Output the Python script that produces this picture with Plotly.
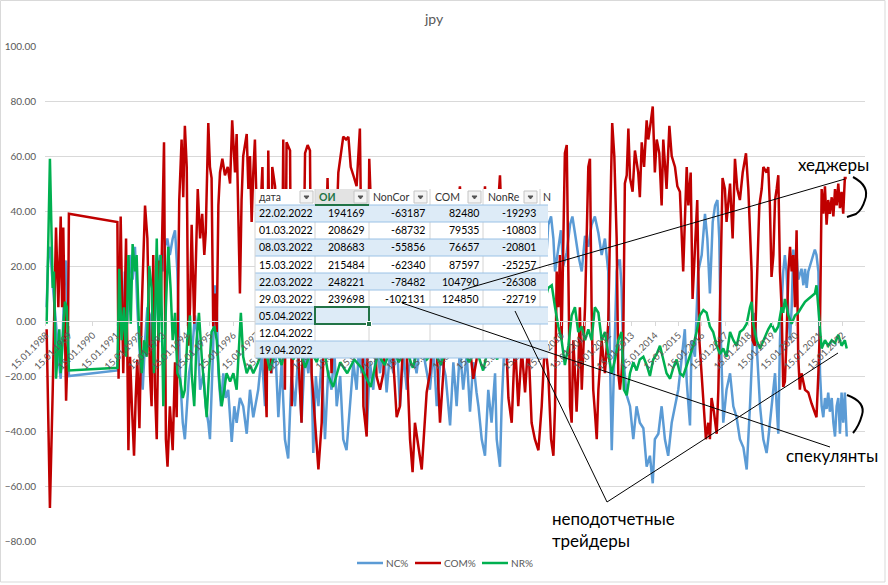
import plotly.graph_objects as go

# ---------------- data (year fraction, percent) ----------------
nc_points = [
    (1988.07, 5), (1988.14, 24), (1988.21, 27), (1988.28, 18), (1988.36, 10), (1988.47, -1), (1988.57, -13),
    (1988.67, -21), (1988.75, -7), (1988.84, 18), (1988.90, 22), (1988.98, -1), (1989.02, -20),
    (1991.09, -18), (1991.20, 5), (1991.34, -7), (1991.41, 18), (1991.51, -1), (1991.63, 24), (1991.74, 15),
    (1991.84, 27), (1991.94, 5), (1992.05, -13), (1992.17, -25), (1992.27, -7), (1992.37, 5), (1992.48, 2),
    (1992.59, -19), (1992.69, -1), (1992.79, 18), (1992.91, 24), (1993.02, 18), (1993.12, 27), (1993.22, 30),
    (1993.33, 24), (1993.45, 30), (1993.55, 33), (1993.65, 18), (1993.76, -19), (1993.88, -37), (1993.97, -43),
    (1994.05, -31), (1994.15, -19), (1994.26, -13), (1994.40, 2), (1994.52, -7), (1994.62, -25), (1994.76, -19),
    (1994.86, -31), (1994.97, -37), (1995.04, -43), (1995.14, -19), (1995.26, 13), (1995.33, 5), (1995.40, -19),
    (1995.51, -31), (1995.61, -19), (1995.71, -28), (1995.82, -25), (1995.97, -44), (1996.08, -31), (1996.18, -37),
    (1996.32, -28), (1996.46, -31), (1996.61, -41), (1996.75, -25), (1996.89, -35),
    (1997.10, -25), (1997.25, -12), (1997.39, -31), (1997.53, -10), (1997.67, -19), (1997.82, -8), (1997.96, -35),
    (1998.10, -15), (1998.24, -43), (1998.38, -50), (1998.52, -20), (1998.67, -31), (1998.81, -12), (1998.95, -37),
    (1999.10, -10), (1999.24, -19), (1999.35, -8), (1999.45, -48), (1999.56, -20), (1999.67, -31), (1999.81, -14),
    (1999.95, -43), (2000.09, -18), (2000.23, -25), (2000.35, -10), (2000.45, -31), (2000.60, -20), (2000.73, -43),
    (2000.87, -47), (2001.02, -31), (2001.16, -15), (2001.30, -25), (2001.40, -10), (2001.51, -19), (2001.62, -8),
    (2001.73, -41), (2001.87, -15), (2002.01, -25), (2002.15, -8), (2002.30, -19), (2002.44, -6), (2002.58, -26),
    (2002.72, -12), (2002.87, -19), (2003.01, -5), (2003.15, -31), (2003.30, -12), (2003.44, -25), (2003.65, -8),
    (2003.86, -19), (2004.05, -5), (2004.20, -14), (2004.43, -25), (2004.58, -10), (2004.72, -31), (2004.90, -12),
    (2005.10, -20), (2005.29, -38), (2005.43, -15), (2005.57, -31), (2005.71, -10), (2005.85, -25), (2006.00, -12),
    (2006.14, -33), (2006.28, -15), (2006.42, -26), (2006.50, -31), (2006.64, -43), (2006.78, -49), (2006.92, -25),
    (2007.06, -37), (2007.21, -19), (2007.28, -43), (2007.35, -48), (2007.42, -53), (2007.49, -31), (2007.60, -10),
    (2007.78, 0), (2007.95, 10), (2008.20, 15), (2008.40, 5), (2008.63, 10), (2008.85, 20), (2009.06, 25),
    (2009.20, 10), (2009.34, 15),
    (2009.48, 35), (2009.60, 38), (2009.70, 30), (2009.77, 18), (2009.91, 27), (2010.02, 33), (2010.12, 20),
    (2010.27, 25), (2010.41, 35), (2010.51, 38), (2010.62, 32), (2010.76, 24), (2010.91, 18), (2011.05, 31),
    (2011.19, 27), (2011.33, 35), (2011.47, 38), (2011.62, 32), (2011.76, 24), (2011.90, 30), (2012.04, 18),
    (2012.11, -7), (2012.19, -47), (2012.26, -25), (2012.33, -7), (2012.40, 18), (2012.47, 22), (2012.54, 22),
    (2012.61, 12), (2012.68, -13), (2012.83, -27), (2012.97, -31), (2013.11, -43), (2013.25, -31), (2013.39, -37),
    (2013.54, -39), (2013.68, -53), (2013.82, -49), (2013.94, -59), (2014.03, -43), (2014.18, -41), (2014.32, -31),
    (2014.46, -43), (2014.60, -49), (2014.75, -37), (2014.89, -31), (2015.03, -25), (2015.17, -14), (2015.31, -3),
    (2015.39, -22), (2015.53, -38), (2015.60, -7), (2015.74, -13), (2015.88, 18), (2016.03, 24), (2016.17, 39),
    (2016.27, 30), (2016.38, 10), (2016.50, 36), (2016.60, 42), (2016.70, 44), (2016.78, 30), (2016.84, -4),
    (2016.95, -37), (2017.09, -25), (2017.24, -19), (2017.38, -31), (2017.52, -35), (2017.66, -43), (2017.81, -46),
    (2017.95, -54), (2018.09, -31), (2018.23, -3), (2018.30, 3), (2018.37, -7), (2018.52, -31), (2018.66, -43),
    (2018.80, -48), (2018.87, -43), (2019.01, -31), (2019.16, -19), (2019.23, -31), (2019.30, -41), (2019.37, -7),
    (2019.44, 5), (2019.51, 18), (2019.58, 24), (2019.65, 18), (2019.73, 3), (2019.80, -7), (2019.87, 5),
    (2019.94, 26), (2020.01, 18), (2020.08, 24), (2020.15, 15), (2020.29, 19), (2020.37, 13), (2020.44, 19),
    (2020.51, 12), (2020.58, 18), (2020.72, 22), (2020.86, 26), (2020.93, 24), (2021.01, 18), (2021.08, -19),
    (2021.15, -31), (2021.22, -35), (2021.29, -28), (2021.36, -32), (2021.43, -26), (2021.50, -33), (2021.58, -28),
    (2021.65, -37), (2021.72, -42), (2021.79, -31), (2021.86, -28), (2021.93, -41), (2022.00, -26), (2022.07, -37),
    (2022.14, -26), (2022.22, -42),
]

com_points = [
    (1988.07, -3), (1988.21, -68), (1988.33, -25), (1988.47, 34), (1988.57, 5), (1988.67, 38), (1988.73, 5),
    (1988.78, 34), (1988.90, -29), (1988.98, -7), (1989.02, 39),
    (1991.09, 36), (1991.14, -21), (1991.23, 38), (1991.34, -19), (1991.41, 5), (1991.46, 30), (1991.56, -47),
    (1991.63, -13), (1991.71, -31), (1991.80, -49), (1991.87, -28), (1991.94, -14), (1992.03, -39), (1992.13, 5),
    (1992.27, 42), (1992.37, 30), (1992.48, -19), (1992.55, -31), (1992.62, 24), (1992.69, -24), (1992.77, -43),
    (1992.88, 22), (1992.94, 5), (1993.08, 65), (1993.16, -43), (1993.23, -53), (1993.33, -31), (1993.45, -47),
    (1993.55, -15), (1993.62, -35), (1993.73, 44), (1993.83, 66), (1993.90, 45), (1993.97, 71), (1994.05, 56),
    (1994.12, -9), (1994.19, 5), (1994.26, 35), (1994.37, -1), (1994.52, 48), (1994.62, 30), (1994.71, 39),
    (1994.80, 24), (1994.86, 32), (1994.97, 72), (1995.04, 56), (1995.11, 52), (1995.18, -2), (1995.25, 10),
    (1995.33, -4), (1995.40, 42), (1995.47, 54), (1995.57, 59), (1995.68, 53), (1995.80, 56), (1995.90, 50),
    (1995.99, 73), (1996.11, 54), (1996.18, 68), (1996.25, 42), (1996.32, 10), (1996.39, 44), (1996.46, 60),
    (1996.61, 68), (1996.68, 48), (1996.75, 60), (1996.82, 36), (1996.89, 54), (1996.96, 66), (1997.03, 42),
    (1997.18, 37), (1997.28, 56), (1997.39, -19), (1997.46, -35), (1997.53, 62), (1997.65, -19), (1997.70, 56),
    (1997.82, 49), (1997.96, 18), (1998.10, -5), (1998.17, 66), (1998.24, -25), (1998.31, 65), (1998.46, 62),
    (1998.53, -31), (1998.67, 30), (1998.80, -10), (1998.95, -37), (1999.10, 61), (1999.21, 64), (1999.31, 62),
    (1999.38, -19), (1999.52, -37), (1999.67, -54), (1999.81, -37), (1999.95, 18), (2000.06, 52), (2000.23, -19),
    (2000.40, 20), (2000.52, 54), (2000.73, 67), (2000.85, 66), (2000.95, 67), (2001.05, 56), (2001.16, 53),
    (2001.30, 49), (2001.44, 70), (2001.59, -31), (2001.73, -42), (2001.84, 59), (2002.01, 18), (2002.15, -20),
    (2002.30, -25), (2002.44, -19), (2002.58, 10), (2002.72, 18), (2002.87, -15), (2003.01, -35), (2003.15, -31),
    (2003.36, 5), (2003.58, -43), (2003.69, -55), (2003.79, -37), (2003.89, -43), (2004.00, -49), (2004.08, -54),
    (2004.29, -26), (2004.43, -19), (2004.64, 5), (2004.86, -37), (2005.00, -19), (2005.15, 10), (2005.29, 18),
    (2005.50, 30), (2005.71, 49), (2005.85, 25), (2006.00, 18), (2006.14, -10), (2006.28, -21), (2006.42, -14),
    (2006.60, 20), (2006.78, 49), (2006.92, 15), (2007.06, 5), (2007.25, 30), (2007.42, 53), (2007.60, 10),
    (2007.78, -28), (2007.92, -37), (2008.06, -7), (2008.20, -31), (2008.35, -10), (2008.49, -26), (2008.63, -7),
    (2008.77, -37), (2008.91, -43), (2009.06, -47), (2009.20, -31), (2009.34, -7), (2009.48, -19), (2009.60, -43),
    (2009.70, -49), (2009.77, -31), (2009.84, 18), (2009.91, 5), (2009.98, 24), (2010.05, -7), (2010.12, 30),
    (2010.19, 61), (2010.27, 64), (2010.34, 18), (2010.41, -31), (2010.48, -37), (2010.55, -7), (2010.62, -19),
    (2010.69, -33), (2010.76, -19), (2010.83, 5), (2010.91, -25), (2010.98, -7), (2011.05, 5), (2011.19, 56),
    (2011.26, 59), (2011.33, 5), (2011.40, -25), (2011.47, -33), (2011.55, -43), (2011.62, -25), (2011.76, -7),
    (2011.90, -19), (2012.04, -1), (2012.16, 52), (2012.21, 72), (2012.30, 60), (2012.40, 30), (2012.47, -19),
    (2012.54, -25), (2012.61, -19), (2012.68, -8), (2012.75, 50), (2012.83, 53), (2012.90, 70), (2012.97, 52),
    (2013.08, 47), (2013.18, 62), (2013.32, 54), (2013.39, 45), (2013.47, 65), (2013.57, 56), (2013.68, 73),
    (2013.75, 66), (2013.85, 72), (2013.94, 78), (2014.03, 54), (2014.11, 66), (2014.22, 61), (2014.32, 42),
    (2014.39, 66), (2014.53, 48), (2014.65, 71), (2014.75, 60), (2014.89, 56), (2014.99, 49), (2015.10, 47),
    (2015.17, 35), (2015.24, 18), (2015.31, 36), (2015.39, 56), (2015.46, 42), (2015.56, 54), (2015.64, 8),
    (2015.74, 27), (2015.84, 44), (2015.93, -7), (2016.03, -19), (2016.10, -31), (2016.21, -43), (2016.31, -37),
    (2016.38, -43), (2016.45, -28), (2016.55, -33), (2016.67, -41), (2016.74, -25), (2016.84, 18), (2016.92, 52),
    (2017.02, 48), (2017.09, 36), (2017.24, 50), (2017.35, 30), (2017.45, 59), (2017.55, 48), (2017.66, 44),
    (2017.78, 54), (2017.92, 61), (2018.02, 48), (2018.16, 18), (2018.20, -7), (2018.30, -9), (2018.37, 9),
    (2018.49, 42), (2018.59, 48), (2018.66, 56), (2018.80, 54), (2018.87, 56), (2018.94, 42), (2019.01, 16),
    (2019.09, 24), (2019.16, 44), (2019.23, 48), (2019.30, 53), (2019.37, 18), (2019.44, 5), (2019.51, -24),
    (2019.58, -22), (2019.65, -7), (2019.73, 18), (2019.80, 27), (2019.87, 18), (2019.94, 24), (2020.01, 5),
    (2020.08, 33), (2020.15, -13), (2020.22, -25), (2020.29, -19), (2020.44, -25), (2020.58, -26), (2020.72, -30),
    (2020.84, -33), (2020.93, -35), (2021.01, -19), (2021.08, -1), (2021.15, 48), (2021.22, 39), (2021.29, 49),
    (2021.36, 35), (2021.43, 44), (2021.50, 39), (2021.58, 45), (2021.65, 38), (2021.72, 48), (2021.79, 42),
    (2021.86, 50), (2021.93, 41), (2022.00, 47), (2022.07, 39), (2022.14, 52), (2022.22, 52),
]

nr_points = [
    (1988.07, -1), (1988.21, 59), (1988.33, 12), (1988.38, 18), (1988.47, -21), (1988.61, -3), (1988.67, -19),
    (1988.85, 7), (1988.93, 5), (1989.02, -18),
    (1991.09, -17), (1991.17, 19), (1991.27, -7), (1991.37, 5), (1991.46, -13), (1991.56, 24), (1991.66, -1),
    (1991.74, 28), (1991.84, 18), (1991.91, 24), (1992.03, -7), (1992.13, -19), (1992.23, -7), (1992.34, -13),
    (1992.45, 20), (1992.55, 12), (1992.65, -19), (1992.77, 30), (1992.85, -7), (1992.94, 24), (1993.05, -31),
    (1993.16, 5), (1993.26, 27), (1993.36, 12), (1993.45, -7), (1993.55, 3), (1993.65, -19), (1993.76, -21),
    (1993.88, -28), (1993.97, -25), (1994.07, -7), (1994.19, 2), (1994.26, -19), (1994.37, -31), (1994.47, -7),
    (1994.57, 3), (1994.69, -13), (1994.80, -25), (1994.90, -35), (1995.00, -19), (1995.11, -4), (1995.23, -2),
    (1995.33, -7), (1995.47, -25), (1995.54, -31), (1995.65, -25), (1995.75, -19), (1995.90, -22), (1996.04, -19),
    (1996.18, -25), (1996.28, -7), (1996.36, 3), (1996.46, -13), (1996.61, -19), (1996.75, -16), (1996.89, -19),
    (1997.10, -15), (1997.35, -8), (1997.60, -18), (1997.85, -10), (1998.10, -16), (1998.35, -6), (1998.60, -14),
    (1998.85, -9), (1999.10, -17), (1999.35, -11), (1999.60, -15), (1999.85, -7), (2000.10, -20), (2000.30, -24),
    (2000.60, -15), (2000.90, -19), (2001.20, -14), (2001.50, -17), (2001.90, -24), (2002.20, -12), (2002.50, -16),
    (2002.80, -9), (2003.10, -15), (2003.40, -10), (2003.70, -17), (2004.00, -8), (2004.30, -14), (2004.60, -11),
    (2004.90, -16), (2005.20, -6), (2005.50, -13), (2005.80, -9), (2006.10, -15), (2006.40, -10), (2006.70, -18),
    (2007.00, -7), (2007.30, -14), (2007.60, -4), (2007.90, -11), (2008.20, -2), (2008.50, -9), (2008.80, 4),
    (2009.10, -3), (2009.35, 8),
    (2009.48, 12), (2009.63, 13), (2009.77, 5), (2009.91, -2), (2010.05, -7), (2010.19, -16), (2010.34, -9),
    (2010.48, 2), (2010.62, 5), (2010.76, -4), (2010.91, -2), (2011.05, -7), (2011.19, -3), (2011.33, -7),
    (2011.47, 5), (2011.62, 3), (2011.76, -7), (2011.90, -4), (2012.04, -12), (2012.19, -19), (2012.33, -14),
    (2012.47, -7), (2012.61, -4), (2012.71, -25), (2012.83, -27), (2012.97, -19), (2013.11, -15), (2013.25, -18),
    (2013.39, -14), (2013.54, -13), (2013.68, -16), (2013.82, -20), (2013.96, -14), (2014.11, -12), (2014.25, -9),
    (2014.39, -14), (2014.53, -19), (2014.68, -21), (2014.82, -17), (2014.96, -14), (2015.10, -19), (2015.24, -20),
    (2015.39, -16), (2015.53, -13), (2015.67, -9), (2015.81, -4), (2015.95, 2), (2016.10, 4), (2016.24, 3),
    (2016.38, -2), (2016.52, -4), (2016.67, -9), (2016.81, -12), (2016.95, -10), (2017.09, -13), (2017.24, -4),
    (2017.38, -7), (2017.52, -9), (2017.66, -4), (2017.81, -3), (2017.95, -1), (2018.09, 5), (2018.16, 7),
    (2018.23, -1), (2018.37, -7), (2018.52, -10), (2018.66, -7), (2018.80, -4), (2018.87, -3), (2019.01, -1),
    (2019.16, -4), (2019.30, -2), (2019.44, 5), (2019.51, 3), (2019.58, 8), (2019.73, 2), (2019.87, -1),
    (2020.01, 2), (2020.15, 3), (2020.29, 5), (2020.44, 7), (2020.58, 8), (2020.72, 9), (2020.86, 10),
    (2020.93, 13), (2021.01, 5), (2021.08, -4), (2021.15, -10), (2021.29, -7), (2021.43, -9), (2021.58, -7),
    (2021.72, -8), (2021.86, -5), (2022.00, -9), (2022.14, -7), (2022.22, -10),
]

tick_years = [1988, 1989, 1990, 1991, 1992, 1993, 1994, 1995, 1996, 1997, 1998, 1999, 2000, 2001, 2002,
              2003, 2004, 2005, 2006, 2007, 2008, 2009, 2010, 2011, 2012, 2013, 2014, 2015, 2016, 2017,
              2018, 2019, 2020, 2021, 2022]
tick_labels = ["15.01." + str(y) for y in tick_years]

table_headers = ["дата", "ОИ", "NonCor", "COM", "NonRe", "N"]
table_dates = ["22.02.2022", "01.03.2022", "08.03.2022", "15.03.2022", "22.03.2022", "29.03.2022",
               "05.04.2022", "12.04.2022", "19.04.2022"]
table_oi = [194169, 208629, 208683, 215484, 248221, 239698]
table_noncom = [-63187, -68732, -55856, -62340, -78482, -102131]
table_com = [82480, 79535, 76657, 87597, 104790, 124850]
table_nonrep = [-19293, -10803, -20801, -25257, -26308, -22719]

series = [("NC%", nc_points, "#5B9BD5"), ("COM%", com_points, "#C00000"), ("NR%", nr_points, "#00B050")]

# ---------------- figure geometry ----------------
W, H = 888, 585
ML, MR, MT, MB = 45, 23, 46, 44
PW, PH = W - ML - MR, H - MT - MB
FONT = "Lato, 'Liberation Sans', 'DejaVu Sans', sans-serif"


def fx(x):
    return (x - ML) / PW


def fy(y):
    return (H - MB - y) / PH


shapes = []
annots = []


def rect(x0, y0, x1, y1, fill, lc="rgba(0,0,0,0)", lw=0):
    shapes.append(dict(type="rect", xref="paper", yref="paper", x0=fx(x0), x1=fx(x1), y0=fy(y1), y1=fy(y0),
                       fillcolor=fill, line=dict(color=lc, width=lw), layer="above"))


def seg(x0, y0, x1, y1, color, w=1):
    shapes.append(dict(type="line", xref="paper", yref="paper", x0=fx(x0), x1=fx(x1), y0=fy(y0), y1=fy(y1),
                       line=dict(color=color, width=w), layer="above"))


def path(cmds, color, w=2, fill=None):
    parts = []
    for c in cmds:
        op, pts = c[0], c[1:]
        parts.append(op + " ".join("%.5f,%.5f" % (fx(pts[i]), fy(pts[i + 1])) for i in range(0, len(pts), 2)))
    d = " ".join(parts)
    if fill:
        d += " Z"
    shapes.append(dict(type="path", xref="paper", yref="paper", path=d, layer="above",
                       line=dict(color=color, width=w), fillcolor=fill if fill else "rgba(0,0,0,0)"))


def text(x, y, s, anchor="left", size=10.5, color="#000000", bold=False):
    annots.append(dict(xref="paper", yref="paper", x=fx(x), y=fy(y), text=("<b>%s</b>" % s) if bold else s,
                       showarrow=False, xanchor=anchor, yanchor="middle",
                       font=dict(family=FONT, size=size, color=color), borderpad=0))


# chart border
rect(0.5, 0.5, 885, 582, "rgba(0,0,0,0)", "#D9D9D9", 1)

# ---------------- pasted table ----------------
cols = [255, 315, 369, 430, 483, 540, 548]
head_top, head_bot, row_h = 189, 205, 17
rect(cols[0], head_top, cols[-1], head_bot, "#FFFFFF")
rect(cols[1], head_top, cols[2], head_bot, "#E3E3E3")
for c in cols[1:6]:
    seg(c, head_top, c, head_bot, "#D4D4D4")
for i in range(len(table_dates)):
    top = head_bot + i * row_h
    fill = "#DDEBF7" if i % 2 == 0 else "#FFFFFF"
    rect(cols[0], top, cols[-1], top + row_h, fill)
    if i % 2 == 1:
        for c in cols[1:6]:
            seg(c, top, c, top + row_h, "#D4D4D4")
for i in range(len(table_dates) + 1):
    yy = head_bot + i * row_h
    seg(cols[0], yy, cols[-1], yy, "#9BC2E6")
seg(cols[0], head_top, cols[0], head_bot + 9 * row_h, "#D4D4D4")
seg(cols[1], head_bot, cols[2], head_bot, "#217346", 2)

# header dropdown buttons
for bx in [300, 354, 414, 468, 524]:
    rect(bx, 191, bx + 13, 203, "#F4F4F4", "#C4C4C4", 1)
    cx = bx + 6.5
    path([("M", cx - 2.5, 196), ("L", cx + 2.5, 196), ("L", cx, 199)], "#555555", 1, fill="#555555")

# active cell
r7 = head_bot + 6 * row_h
rect(cols[1], r7, cols[2], r7 + row_h, "rgba(0,0,0,0)", "#217346", 2)
rect(cols[2] - 2.5, r7 + row_h - 2.5, cols[2] + 2.5, r7 + row_h + 2.5, "#217346", "#FFFFFF", 1)

# table texts
hy = (head_top + head_bot) / 2
text(258, hy, table_headers[0], color="#333333")
text(318, hy, table_headers[1], color="#217346", bold=True)
text(372, hy, table_headers[2], color="#333333")
text(434, hy, table_headers[3], color="#333333")
text(487, hy, table_headers[4], color="#333333")
text(542, hy, table_headers[5], color="#333333")
for i, d in enumerate(table_dates):
    cy = head_bot + i * row_h + row_h / 2
    text(258, cy, d)
    if i < len(table_oi):
        text(366, cy, str(table_oi[i]), anchor="right")
        text(426, cy, str(table_noncom[i]), anchor="right")
        text(480, cy, str(table_com[i]), anchor="right")
        text(537, cy, str(table_nonrep[i]), anchor="right")

# ---------------- hand-drawn annotation lines ----------------
seg(462, 290, 845, 179, "#000000", 1)
seg(402, 303, 830, 447, "#000000", 1)
seg(515, 311, 607, 502, "#000000", 1)
seg(607, 502, 838, 353, "#000000", 1)
path([("M", 853, 177), ("Q", 870, 186, 865, 200), ("Q", 862, 210, 856, 214), ("L", 847, 217)], "#000000", 2)
path([("M", 847, 395), ("Q", 866, 402, 862, 415), ("Q", 859, 426, 853, 433)], "#000000", 2)

text(797, 164, "хеджеры", size=17)
text(785, 455, "спекулянты", size=17)
text(551, 518, "неподотчетные", size=17)
text(551, 540, "трейдеры", size=17)

# title
annots.append(dict(xref="paper", yref="paper", x=fx(434), y=fy(18), text="jpy", showarrow=False,
                   xanchor="center", yanchor="middle", font=dict(family=FONT, size=14, color="#595959")))

# ---------------- legend (drawn like Excel's: short swatch + label) ----------------
legend_pos = [(357, "NC%"), (415, "COM%"), (482, "NR%")]
for (lx, lab), (_, _, color) in zip(legend_pos, series):
    seg(lx, 563, lx + 26, 563, color, 2.5)
    text(lx + 28, 563, lab, size=10, color="#595959")

# ---------------- traces ----------------
fig = go.Figure()
for name, pts, color in series:
    xs = [p[0] for p in pts]
    ys = [p[1] for p in pts]
    fig.add_trace(go.Scatter(x=xs, y=ys, mode="lines", name=name,
                             line=dict(color=color, width=2.5)))

fig.update_layout(
    template="none",
    width=W, height=H,
    margin=dict(l=ML, r=MR, t=MT, b=MB, pad=0),
    paper_bgcolor="#FFFFFF", plot_bgcolor="#FFFFFF",
    font=dict(family=FONT, color="#595959"),
    showlegend=False,
    xaxis=dict(range=[1988.0, 2023.0], tickmode="array",
               tickvals=[y + 0.038 for y in tick_years], ticktext=tick_labels,
               tickangle=-45, showgrid=False, zeroline=False, showline=True, linecolor="#D9D9D9",
               linewidth=1, ticks="outside", ticklen=4, tickcolor="#D9D9D9",
               anchor="free", position=80 / 180, automargin=False,
               tickfont=dict(family=FONT, size=9.5, color="#595959")),
    yaxis=dict(range=[-80, 100], dtick=20, tick0=0, tickformat=".2f", showgrid=True, gridcolor="#D9D9D9",
               gridwidth=1, zeroline=False, showline=False, ticks="outside", ticklen=6,
               tickcolor="rgba(0,0,0,0)", automargin=False,
               tickfont=dict(family=FONT, size=10, color="#595959")),
    shapes=shapes,
    annotations=annots,
)

fig.write_html("out.html", config={"displayModeBar": False},
               post_script="document.body.style.margin='0';document.body.style.overflow='hidden';")
